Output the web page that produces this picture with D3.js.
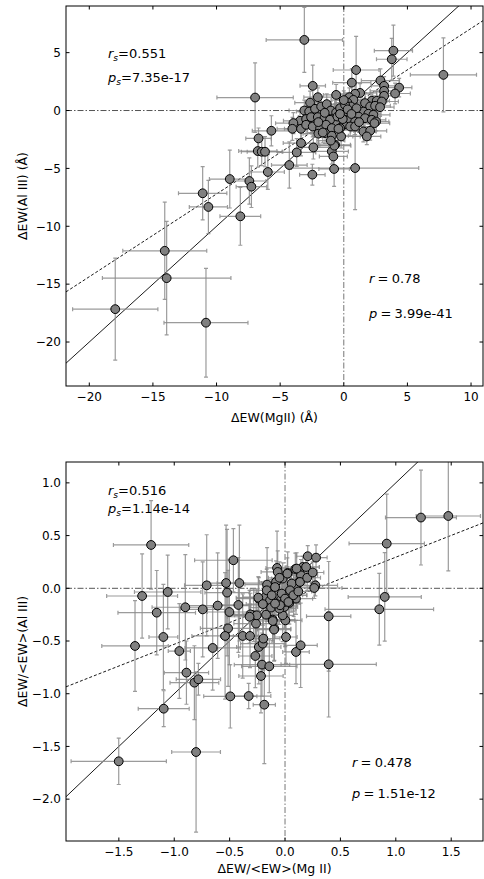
<!DOCTYPE html>
<html>
<head>
<meta charset="utf-8">
<script src="https://cdn.jsdelivr.net/npm/d3@7"></script>
<style>
  html, body { margin: 0; padding: 0; background: #fff; }
  svg text { font-family: "DejaVu Sans", sans-serif; }
</style>
</head>
<body>
<svg id="fig" width="484" height="879"></svg>
<script>
// ---- Upper panel: equivalent-width variations, Mg II vs Al III (Å) ----
const mgTop = [
  -3.1, 3.9, 3.77, 7.83, 0.97, -2.44, -6.97, 0.63, 2.88, 4.35, 4.03, 3.17, 3.17, 3.17,
  -0.6, -2.04, -2.65, 1.28, 0.89, 0.44, 0.76, 0.28, 0.55, 2.2, 2.59, 2.99, 1.67, 2.07,
  2.46, 2.85, 1.54, 1.93, 2.33, 1.15, 1.67, 2.2, 2.54, -0.29, 0.1, 0.5, 0.89, -0.68,
  -0.94, -0.55, -0.03, 0.5, 0.89, 1.54, 2.07, 1.81, 2.41, -0.29, -0.21, -0.68, -0.94,
  -0.82, 0.89, -3.1, -2.72, -2.26, -1.78, -1.34, -1.02, -0.6, -0.29, 0.1, -3.44, -2.96,
  -2.57, -2.04, -1.52, -1.08, -0.5, -0.08, -3.96, -4.04, -3.36, -2.96, -2.44, -1.86,
  -1.39, -0.94, -0.42, -5.69, -6.7, -2.0, -1.47, -0.94, -3.36, -2.39, -0.74, -3.7,
  -4.28, -5.97, -2.47, -0.76, -6.76, -6.45, -6.19, -8.96, -7.42, -7.26, -11.09, -10.64,
  -8.13, -14.07, -13.92, -17.96, -10.83, -1.65, -1.02, 0.3, -0.3, 1.0, -1.5, 0.0, 1.2,
  -2.0, 0.6
];
const alTop = [
  6.1, 5.17, 4.43, 3.08, 3.5, 2.13, 1.12, 2.41, 2.59, 1.98, 1.47, 2.13, 1.7, 1.27,
  1.35, 1.15, 0.68, 1.52, 1.44, 1.15, 0.92, 0.69, 0.35, 0.84, 0.84, 0.78, 0.64, 0.35,
  0.41, 0.29, -0.09, -0.28, -0.37, -0.52, -0.66, -0.8, -0.95, -0.66, -0.8, -0.74, -0.95, -0.22,
  -0.66, -1.09, -1.23, -1.38, -1.38, -1.81, -1.75, -2.24, -1.09, -1.52, -2.24, -2.96, -3.53,
  -3.97, -4.97, 0.0, -0.09, 0.15, 0.35, 0.55, 0.0, -0.17, 0.2, 0.49, -0.89, -0.74,
  -0.57, -0.57, -0.66, -0.8, -0.52, -0.74, -1.09, -1.58, -1.58, -1.23, -1.38, -1.52,
  -1.23, -1.52, -1.58, -1.75, -2.41, -2.0, -1.95, -2.18, -2.81, -3.19, -3.04, -3.62,
  -4.71, -5.31, -5.54, -5.05, -3.5, -3.56, -3.56, -5.92, -6.09, -6.58, -7.15, -8.33,
  -9.14, -12.12, -14.48, -17.16, -18.33, -1.9, -2.6, 0.1, -0.3, 0.2, -0.2, 0.9, -1.0,
  -1.0, -0.3
];
const mgErrTop = [
  3.0, 1.5, 1.2, 2.6, 1.8, 1.0, 3.0, 1.5, 1.5, 1.0, 1.2, 1.0, 1.1, 0.9,
  1.0, 1.1, 1.2, 1.3, 1.2, 1.0, 1.4, 1.0, 1.1, 1.2, 1.0, 1.3, 1.2, 1.0,
  1.2, 1.1, 1.2, 1.0, 1.3, 1.0, 1.2, 1.1, 1.0, 1.3, 1.1, 1.2, 1.0, 1.1,
  1.2, 1.0, 1.3, 1.1, 1.2, 1.0, 1.3, 1.1, 1.2, 1.4, 1.5, 1.2, 1.3,
  1.1, 5.0, 1.2, 1.0, 1.1, 1.2, 1.0, 1.3, 1.1, 1.0, 1.2, 1.3, 1.1,
  1.0, 1.2, 1.1, 1.3, 1.0, 1.2, 1.4, 1.2, 1.3, 1.1, 1.2, 1.0,
  1.3, 1.1, 1.2, 1.5, 1.0, 1.2, 1.1, 1.3, 1.4, 1.2, 1.3, 1.5,
  1.4, 1.3, 1.0, 1.2, 1.5, 1.6, 1.4, 1.6, 1.3, 1.2, 1.9, 1.5,
  1.6, 3.3, 5.05, 3.35, 3.3, 1.2, 1.1, 1.0, 1.2, 1.1, 1.3, 1.0, 1.2,
  1.1, 1.0
];
const alErrTop = [
  2.8, 2.2, 1.8, 3.2, 2.9, 1.8, 3.0, 1.2, 1.0, 0.8, 0.9, 0.8, 0.9, 0.7,
  0.9, 0.8, 1.0, 0.8, 0.9, 0.8, 0.9, 0.7, 0.8, 0.7, 0.8, 0.7, 0.9, 0.8,
  0.7, 0.8, 0.8, 0.9, 0.8, 0.7, 0.8, 0.9, 0.8, 0.8, 0.9, 0.8, 0.7, 0.8,
  0.9, 0.8, 0.9, 0.8, 0.7, 0.9, 0.8, 0.7, 0.8, 0.9, 1.0, 1.0, 1.1,
  1.0, 3.6, 0.9, 0.8, 0.9, 0.8, 0.9, 0.8, 0.7, 0.8, 0.9, 0.8, 0.9,
  0.8, 0.7, 0.8, 0.9, 0.8, 0.7, 0.9, 1.0, 0.9, 0.8, 0.9, 0.8,
  0.9, 0.8, 0.9, 1.3, 0.9, 1.0, 0.9, 1.0, 1.1, 1.0, 1.1, 1.2,
  2.0, 1.5, 0.9, 1.5, 1.4, 1.2, 1.3, 2.5, 2.0, 1.8, 2.3, 2.3,
  2.5, 4.2, 4.9, 4.4, 4.7, 0.9, 1.0, 0.8, 0.9, 0.8, 0.9, 0.8, 0.9,
  0.8, 0.9
];

// ---- Lower panel: fractional variations ΔEW/<EW> ----
const mgBot = [
  -1.209, 1.227, 1.474, 0.918, 0.9, 0.851, 0.394, 0.394, -1.501, -0.803, -1.095, -0.494,
  -0.328, -0.187, -1.354, -1.098, -0.954, -0.89, -0.818, -0.782, -1.29, -1.158, -1.059,
  -0.9, -0.743, -0.707, -0.653, -0.608, -0.532, -0.523, -0.502, -0.514, -0.541, -0.466,
  -0.412, -0.421, -0.382, -0.316, -0.268, -0.237, -0.201, -0.196, -0.217, -0.208, -0.142,
  -0.097, 0.009, 0.099, 0.141, 0.003, -0.021, -0.111, -0.171, -0.262, -0.283, -0.313,
  -0.237, -0.178, -0.135, -0.162, -0.072, -0.066, -0.081, -0.021, 0.024, 0.093, 0.16,
  0.205, 0.28, 0.274, 0.264, 0.144, 0.129, 0.099, 0.054, 0.009, -0.036, -0.081, -0.126,
  0.078, 0.099, 0.039, -0.006, -0.051, -0.006, -0.241, -0.165, -0.12, -0.09, -0.03,
  0.0, 0.021, 0.06, 0.105, 0.135, 0.19, 0.045, 0.075, 0.03, -0.045, -0.09, -0.099,
  -0.111, -0.255, 0.2, 0.25, -0.05, 0.12, -0.2, -0.32
];
const alBot = [
  0.411, 0.671, 0.686, 0.424, -0.082, -0.199, -0.266, -0.721, -1.641, -1.553, -1.142, -1.025,
  -1.022, -1.104, -0.547, -0.462, -0.595, -0.8, -0.895, -0.863, -0.073, -0.231, -0.035,
  -0.18, -0.2, 0.028, -0.566, -0.164, 0.05, -0.041, -0.225, -0.38, -0.452, 0.266,
  0.05, -0.158, -0.452, -0.452, -0.642, -0.557, -0.525, -0.477, -0.832, -0.724, -0.74,
  -0.383, -0.462, -0.604, -0.541, -0.304, -0.256, -0.297, -0.25, -0.335, -0.256, -0.247,
  -0.098, -0.083, -0.114, 0.035, 0.193, 0.155, 0.06, 0.092, 0.145, 0.183, 0.202,
  0.304, 0.291, 0.028, 0.003, 0.123, 0.06, 0.012, -0.026, -0.066, -0.107, -0.145, -0.183,
  -0.066, -0.098, -0.139, -0.177, -0.193, -0.13, -0.089, -0.019, -0.066, 0.012, -0.05,
  -0.098, 0.139, 0.045, 0.187, 0.06, 0.202, -0.019, -0.066, -0.13, -0.161, -0.145, -0.392,
  -0.31, -0.256, 0.1, 0.15, 0.1, -0.03, -0.15, -0.27
];
const mgErrBot = [
  0.34, 0.32, 0.29, 0.34, 0.33, 0.49, 0.2, 0.43, 0.43, 0.22, 0.23, 0.24,
  0.2, 0.1, 0.3, 0.13, 0.1, 0.2, 0.22, 0.2, 0.32, 0.35, 0.3,
  0.3, 0.2, 0.2, 0.25, 0.3, 0.15, 0.2, 0.2, 0.25, 0.3, 0.35,
  0.2, 0.2, 0.2, 0.15, 0.15, 0.2, 0.2, 0.15, 0.2, 0.25, 0.25,
  0.15, 0.1, 0.12, 0.15, 0.15, 0.1, 0.2, 0.2, 0.2, 0.25, 0.2,
  0.2, 0.2, 0.15, 0.2, 0.1, 0.15, 0.15, 0.1, 0.1, 0.12, 0.15,
  0.1, 0.1, 0.2, 0.25, 0.15, 0.1, 0.12, 0.1, 0.15, 0.1, 0.15, 0.2,
  0.12, 0.15, 0.1, 0.12, 0.15, 0.1, 0.2, 0.15, 0.1, 0.1, 0.12,
  0.1, 0.1, 0.12, 0.1, 0.15, 0.12, 0.1, 0.12, 0.1, 0.15, 0.12, 0.15,
  0.2, 0.2, 0.12, 0.1, 0.1, 0.12, 0.15, 0.2
];
const alErrBot = [
  0.42, 0.45, 0.52, 0.47, 0.42, 0.34, 0.52, 0.5, 0.22, 0.76, 0.17, 0.3,
  0.12, 0.56, 0.43, 0.5, 0.45, 0.3, 0.35, 0.15, 0.4, 0.4, 0.35,
  0.5, 0.45, 0.48, 0.4, 0.5, 0.55, 0.6, 0.5, 0.55, 0.6, 0.3,
  0.55, 0.45, 0.4, 0.3, 0.3, 0.35, 0.3, 0.3, 0.35, 0.3, 0.25,
  0.3, 0.25, 0.3, 0.4, 0.25, 0.25, 0.2, 0.25, 0.3, 0.25, 0.2,
  0.2, 0.15, 0.2, 0.35, 0.35, 0.2, 0.2, 0.15, 0.2, 0.15, 0.1,
  0.1, 0.12, 0.1, 0.1, 0.15, 0.12, 0.15, 0.2, 0.2, 0.15, 0.2, 0.15,
  0.2, 0.15, 0.2, 0.2, 0.15, 0.15, 0.2, 0.2, 0.15, 0.2, 0.15,
  0.15, 0.15, 0.12, 0.15, 0.12, 0.1, 0.12, 0.15, 0.2, 0.15, 0.2, 0.3,
  0.2, 0.25, 0.12, 0.1, 0.15, 0.12, 0.2, 0.25
];

// Tick values and fitted relations for each panel
const ticksTopX = [-20, -15, -10, -5, 0, 5, 10];
const ticksTopY = [-20, -15, -10, -5, 0, 5];
const ticksBotX = [-1.5, -1.0, -0.5, 0.0, 0.5, 1.0, 1.5];
const ticksBotY = [-2.0, -1.5, -1.0, -0.5, 0.0, 0.5, 1.0];
const fitTop = {slope: 0.715, intercept: -0.06};
const fitBot = {slope: 0.413, intercept: -0.118};
const statsTop = {rs: "0.551", ps: "7.35e-17", r: "0.78", p: "3.99e-41"};
const statsBot = {rs: "0.516", ps: "1.14e-14", r: "0.478", p: "1.51e-12"};

const svg = d3.select("#fig");
const fs = 12;      // tick labels
const fsLab = 12.5; // axis titles
const fsAnn = 13;   // statistics

function panel(cfg) {
  const {x0, x1, y0, y1, xdom, ydom, xs, ys, xe, ye, xt, yt, fmt, fit, st, xlabel, ylabel,
         xlabY, ylabX, statPos} = cfg;
  const x = d3.scaleLinear().domain(xdom).range([x0, x1]);
  const y = d3.scaleLinear().domain(ydom).range([y1, y0]);
  const g = svg.append("g");
  const clipId = "clip" + Math.round(y0);
  svg.append("clipPath").attr("id", clipId).append("rect")
    .attr("x", x0).attr("y", y0).attr("width", x1 - x0).attr("height", y1 - y0);
  const inner = g.append("g").attr("clip-path", `url(#${clipId})`);

  // zero reference lines
  const refStyle = s => s.attr("stroke", "#555").attr("stroke-width", 1)
    .attr("stroke-dasharray", "6,2,1.5,2").attr("fill", "none");
  inner.append("line").attr("x1", x0).attr("x2", x1).attr("y1", y(0)).attr("y2", y(0)).call(refStyle);
  inner.append("line").attr("x1", x(0)).attr("x2", x(0)).attr("y1", y0).attr("y2", y1).call(refStyle)
    .attr("stroke", "#777");

  // one-to-one line and linear fit
  inner.append("line")
    .attr("x1", x(xdom[0])).attr("y1", y(xdom[0]))
    .attr("x2", x(xdom[1])).attr("y2", y(xdom[1]))
    .attr("stroke", "#000").attr("stroke-width", 0.9);
  inner.append("line")
    .attr("x1", x(xdom[0])).attr("y1", y(fit.slope * xdom[0] + fit.intercept))
    .attr("x2", x(xdom[1])).attr("y2", y(fit.slope * xdom[1] + fit.intercept))
    .attr("stroke", "#000").attr("stroke-width", 0.9).attr("stroke-dasharray", "3,2");

  // error bars
  const pts = xs.map((v, i) => ({x: v, y: ys[i], xe: xe[i], ye: ye[i]}));
  const eb = inner.append("g").attr("stroke", "#8a8a8a").attr("stroke-width", 1.2)
    .attr("stroke-opacity", 0.85).attr("fill", "none");
  const cap = 2;
  pts.forEach(d => {
    const cx = x(d.x), cy = y(d.y);
    const xl = x(d.x - d.xe), xr = x(d.x + d.xe);
    const yt_ = y(d.y + d.ye), yb = y(d.y - d.ye);
    eb.append("path").attr("d",
      `M${xl},${cy}H${xr}M${xl},${cy - cap}V${cy + cap}M${xr},${cy - cap}V${cy + cap}` +
      `M${cx},${yt_}V${yb}M${cx - cap},${yt_}H${cx + cap}M${cx - cap},${yb}H${cx + cap}`);
  });
  // markers
  inner.append("g").selectAll("circle").data(pts).join("circle")
    .attr("cx", d => x(d.x)).attr("cy", d => y(d.y)).attr("r", 4.4)
    .attr("fill", "#808080").attr("stroke", "#000").attr("stroke-width", 1);

  // frame
  g.append("rect").attr("x", x0).attr("y", y0).attr("width", x1 - x0).attr("height", y1 - y0)
    .attr("fill", "none").attr("stroke", "#000").attr("stroke-width", 1);

  // inward ticks on all four sides
  const tl = 3.5;
  const ax = g.append("g").attr("stroke", "#000").attr("stroke-width", 1);
  xt.forEach(t => {
    ax.append("line").attr("x1", x(t)).attr("x2", x(t)).attr("y1", y1).attr("y2", y1 - tl);
    ax.append("line").attr("x1", x(t)).attr("x2", x(t)).attr("y1", y0).attr("y2", y0 + tl);
    g.append("text").attr("x", x(t)).attr("y", y1 + 15).attr("text-anchor", "middle")
      .attr("font-size", fs).text(fmt(t));
  });
  yt.forEach(t => {
    ax.append("line").attr("x1", x0).attr("x2", x0 + tl).attr("y1", y(t)).attr("y2", y(t));
    ax.append("line").attr("x1", x1).attr("x2", x1 - tl).attr("y1", y(t)).attr("y2", y(t));
    g.append("text").attr("x", x0 - 5).attr("y", y(t)).attr("dy", "0.36em")
      .attr("text-anchor", "end").attr("font-size", fs).text(fmt(t));
  });

  // axis titles
  g.append("text").attr("x", (x0 + x1) / 2).attr("y", xlabY).attr("text-anchor", "middle")
    .attr("font-size", fsLab).text(xlabel);
  g.append("text").attr("transform", `translate(${ylabX},${(y0 + y1) / 2}) rotate(-90)`)
    .attr("text-anchor", "middle").attr("font-size", fsLab).text(ylabel);

  // correlation statistics (Spearman with subscript s, Pearson with spaced relation)
  const sp = statPos;
  const spearman = (px, py, sym, val) => {
    const t = g.append("text").attr("x", px).attr("y", py).attr("font-size", fsAnn);
    t.append("tspan").attr("font-style", "italic").text(sym);
    t.append("tspan").attr("font-style", "italic").attr("font-size", fsAnn * 0.7).attr("dy", 3).text("s");
    t.append("tspan").attr("dy", -3).text("=" + val);
  };
  spearman(sp.lx, sp.ly1, "r", st.rs);
  spearman(sp.lx, sp.ly2, "p", st.ps);
  const pearson = (px, py, sym, val) => {
    const t = g.append("text").attr("x", px).attr("y", py).attr("font-size", fsAnn);
    t.append("tspan").attr("font-style", "italic").text(sym);
    t.append("tspan").attr("dx", 3.2).text("=");
    t.append("tspan").attr("dx", 3.2).text(val);
  };
  pearson(sp.rx, sp.ry1, "r", st.r);
  pearson(sp.rx, sp.ry2, "p", st.p);
}

const minus = v => (v < 0 ? "\u2212" : "") + Math.abs(v);
const minus1 = v => (v < 0 ? "\u2212" : "") + Math.abs(v).toFixed(1);

panel({
  x0: 66, x1: 483, y0: 6, y1: 386,
  xdom: [-21.83, 10.94], ydom: [-23.8, 9.03],
  xs: mgTop, ys: alTop, xe: mgErrTop, ye: alErrTop,
  xt: ticksTopX, yt: ticksTopY, fmt: minus, fit: fitTop, st: statsTop,
  xlabel: "ΔEW(MgII) (Å)", ylabel: "ΔEW(Al III) (Å)", xlabY: 422, ylabX: 27,
  statPos: {lx: 108, ly1: 58, ly2: 82, rx: 369, ry1: 283, ry2: 318}
});
panel({
  x0: 66, x1: 483, y0: 462, y1: 841,
  xdom: [-1.977, 1.787], ydom: [-2.397, 1.198],
  xs: mgBot, ys: alBot, xe: mgErrBot, ye: alErrBot,
  xt: ticksBotX, yt: ticksBotY, fmt: minus1, fit: fitBot, st: statsBot,
  xlabel: "ΔEW/<EW>(Mg II)", ylabel: "ΔEW/<EW>(Al III)", xlabY: 873, ylabX: 27,
  statPos: {lx: 108, ly1: 495, ly2: 513, rx: 352, ry1: 767, ry2: 798}
});
</script>
</body>
</html>
